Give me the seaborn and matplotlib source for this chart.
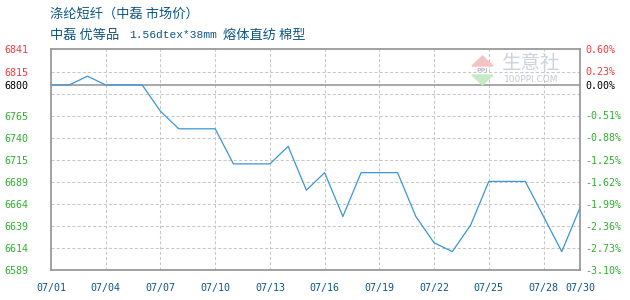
import matplotlib
matplotlib.use("Agg")
import matplotlib.pyplot as plt
from matplotlib.patches import Polygon
import seaborn as sns
import pandas as pd

# Daily market price, July (day of month -> price)
days = list(range(1, 31))
prices = [6800, 6800, 6810, 6800, 6800, 6800, 6770, 6750, 6750, 6750,
          6710, 6710, 6710, 6730, 6680, 6700, 6650, 6700, 6700, 6700,
          6650, 6620, 6610, 6640, 6690, 6690, 6690, 6650, 6610, 6660]

# Axis labels
x_tick_days = [1, 4, 7, 10, 13, 16, 19, 22, 25, 28, 30]
x_tick_labels = ["07/01", "07/04", "07/07", "07/10", "07/13", "07/16",
                 "07/19", "07/22", "07/25", "07/28", "07/30"]
base_price = 6800
price_ticks = [6589, 6614, 6639, 6664, 6689, 6715, 6740, 6765, 6800, 6815, 6841]
grid_prices = [6614, 6639, 6664, 6689, 6715, 6740, 6765, 6790, 6815]
pct_ticks = [0.60, 0.23, 0.00, -0.51, -0.88, -1.25, -1.62, -1.99, -2.36, -2.73, -3.10]

title = "涤纶短纤（中磊 市场价）"
subtitle_parts = ["中磊 优等品", "1.56dtex*38mm", "熔体直纺 棉型"]

RED = "#f03a3a"
GREEN = "#2fb02f"
BLUE_TEXT = "#0f5585"
LINE = "#3a96d6"
FRAME = "#9a9a9a"
GRID = "#c8c8c8"

sns.set_style("white")
plt.rcParams["font.family"] = ["Noto Sans CJK SC", "DejaVu Sans"]

W, H = 630, 300
fig = plt.figure(figsize=(W / 100, H / 100), dpi=100)
L, R, T, B = 51, 580, 49, 270
ax = fig.add_axes([L / W, 1 - B / H, (R - L) / W, (B - T) / H])

df = pd.DataFrame({"day": days, "price": prices})

ymin, ymax = 6589, 6841
ax.set_xlim(days[0], days[-1])
ax.set_ylim(ymin, ymax)

# dashed grid
for v in grid_prices:
    ax.axhline(v, color=GRID, lw=0.75, ls=(0, (3, 2)), zorder=1)
for d in x_tick_days[1:-1]:
    ax.axvline(d, color=GRID, lw=0.75, ls=(0, (3, 2)), zorder=1)
# reference price line
ax.axhline(base_price, color=FRAME, lw=1.2, zorder=2)

sns.lineplot(data=df, x="day", y="price", ax=ax, color=LINE, linewidth=0.9, zorder=3)

for s in ax.spines.values():
    s.set_color(FRAME)
    s.set_linewidth(1.3)
    s.set_visible(True)

ax.set_xlabel("")
ax.set_ylabel("")
ax.set_xticks(x_tick_days)
ax.set_xticklabels(x_tick_labels, family="DejaVu Sans Mono", fontsize=7.2, color=BLUE_TEXT)
ax.tick_params(axis="x", length=0, pad=9)


def level_color(v):
    if v > 0:
        return RED
    if v < 0:
        return GREEN
    return "black"


ax.set_yticks(price_ticks)
ax.set_yticklabels([str(v) for v in price_ticks], family="DejaVu Sans Mono", fontsize=7.2)
for lab, v in zip(ax.get_yticklabels(), price_ticks):
    lab.set_color(level_color(v - base_price))
ax.tick_params(axis="y", length=0, pad=16)

ax2 = ax.twinx()
ax2.set_ylim(ymin, ymax)
ax2.set_yticks([base_price * (1 + p / 100) for p in pct_ticks])
ax2.set_yticklabels([f"{p:.2f}%" for p in pct_ticks], family="DejaVu Sans Mono", fontsize=7.2)
for lab, p in zip(ax2.get_yticklabels(), pct_ticks):
    lab.set_color(level_color(p))
ax2.tick_params(axis="y", length=0, pad=4)
for s in ax2.spines.values():
    s.set_visible(False)

# titles
fig.text(50 / W, 1 - 14 / H, title, fontsize=9.5, color=BLUE_TEXT, va="center", ha="left")
fig.text(50 / W, 1 - 35 / H, subtitle_parts[0], fontsize=9.5, color=BLUE_TEXT, va="center", ha="left")
fig.text(129 / W, 1 - 35 / H, subtitle_parts[1], fontsize=8.1, color=BLUE_TEXT, va="center",
         ha="left", family="Liberation Mono")
fig.text(223 / W, 1 - 35 / H, subtitle_parts[2], fontsize=9.5, color=BLUE_TEXT, va="center", ha="left")

# watermark
fig.patches.append(Polygon([(472 / W, 1 - 66 / H), (493 / W, 1 - 66 / H), (482.5 / W, 1 - 56 / H)],
                           closed=True, transform=fig.transFigure, color="#f4c4c4", zorder=0))
fig.patches.append(Polygon([(472 / W, 1 - 75 / H), (493 / W, 1 - 75 / H), (482.5 / W, 1 - 85 / H)],
                           closed=True, transform=fig.transFigure, color="#c4ebc4", zorder=0))
fig.text(482.5 / W, 1 - 70.5 / H, "PPI", fontsize=4.5, color="#b8bec8", ha="center", va="center",
         family="DejaVu Sans", weight="bold")
fig.text(531 / W, 1 - 63.5 / H, "生意社", fontsize=14, color="#cdd3dc", ha="center", va="center")
fig.text(531 / W, 1 - 80 / H, "100PPI.COM", fontsize=6.5, color="#c4cad3", ha="center", va="center",
         family="DejaVu Sans")

fig.savefig("out.png", dpi=100)
